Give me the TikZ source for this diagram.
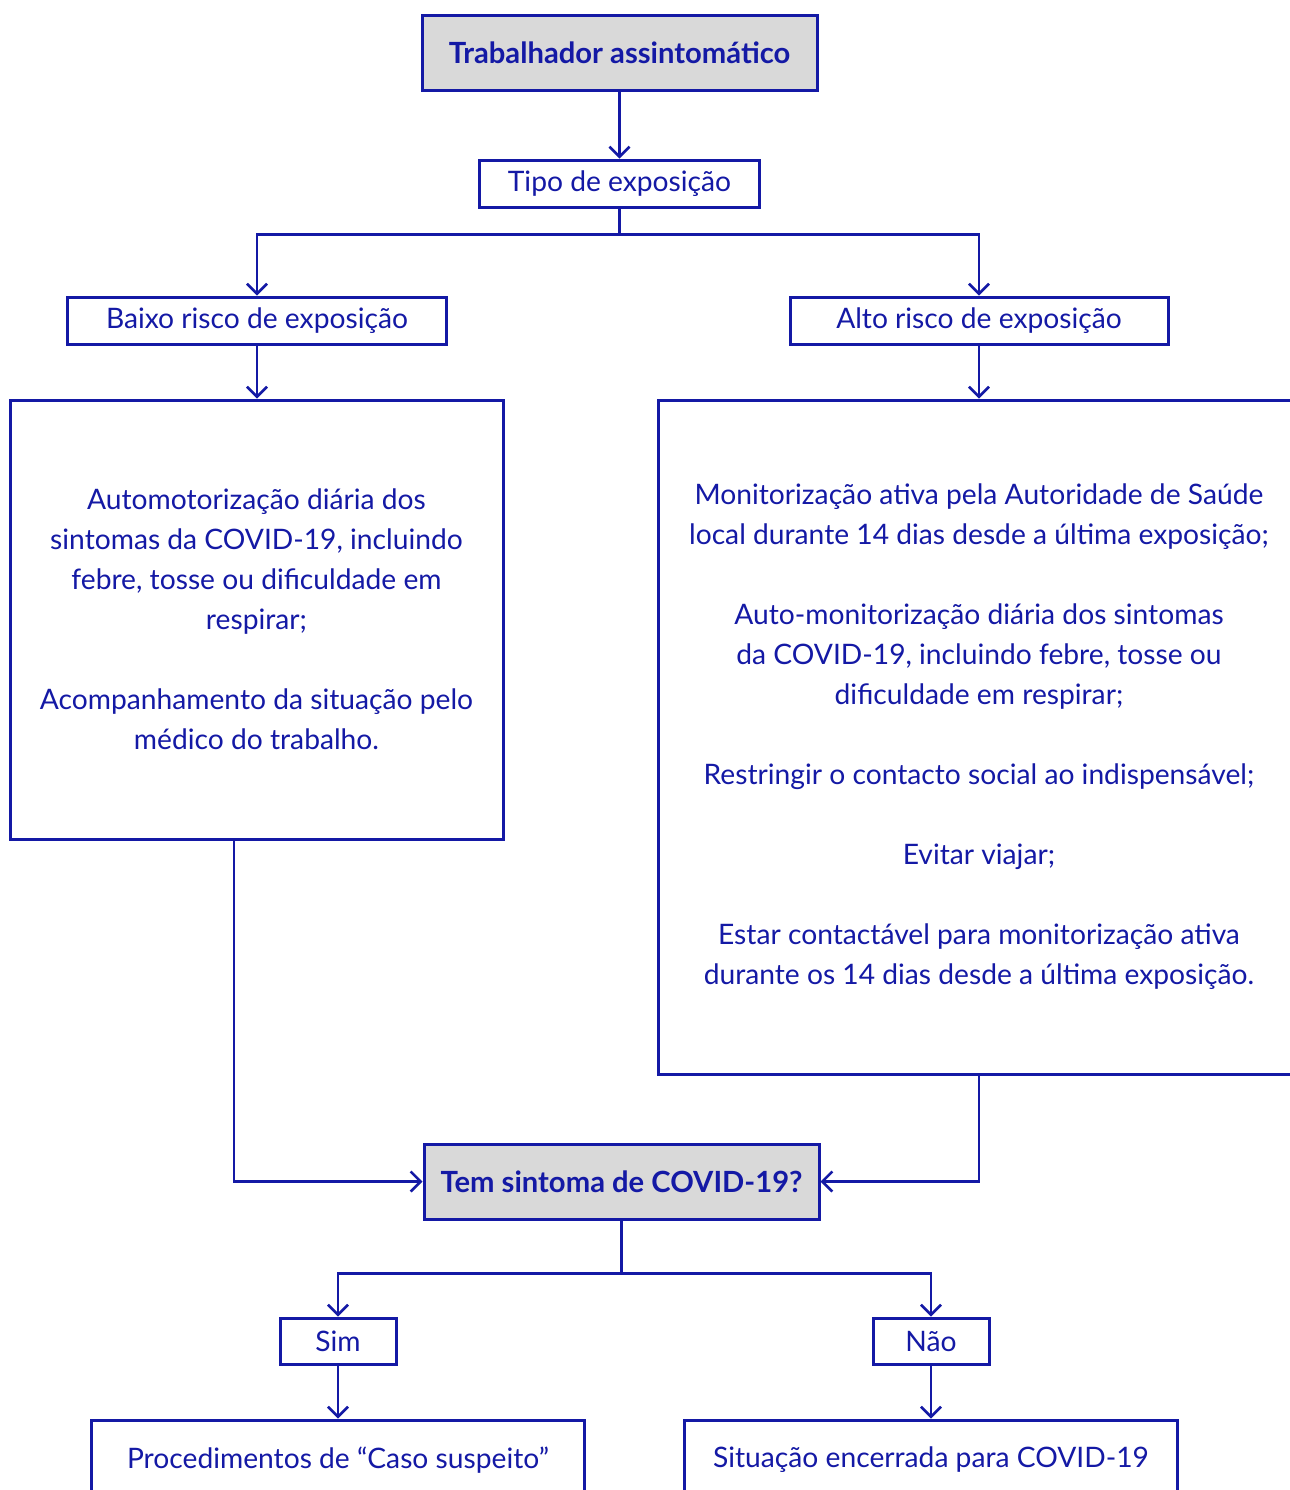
\documentclass[tikz,border=0pt]{standalone}
\usepackage{fontspec}
\setmainfont{Lato}
\usetikzlibrary{arrows.meta}
\definecolor{myblue}{RGB}{20,25,165}
\definecolor{boxgray}{RGB}{217,217,217}
\tikzset{
  box/.style={draw=myblue, line width=1.5pt, inner sep=0pt, text=myblue, align=center,
              font=\fontsize{14.1}{20}\selectfont},
  boldbox/.style={box, fill=boxgray, font=\fontsize{14.6}{20}\selectfont\bfseries},
  arr/.style={draw=myblue, line width=1.3pt, -{Straight Barb[length=5pt,width=10pt,line width=1.3pt]}}
}
\begin{document}
\begin{tikzpicture}[x=0.5pt,y=-0.5pt]
\clip (0,0) rectangle (1290,1490);
\fill[white] (0,0) rectangle (1290,1490);
\node[boldbox, minimum width=197.5pt, minimum height=37.5pt] (top) at (619.5,52.5) {Trabalhador assintomático};
\node[box, minimum width=140pt, minimum height=23.5pt] (tipo) at (619.5,183.5) {Tipo de exposição};
\node[box, minimum width=189.5pt, minimum height=23.5pt] (baixo) at (257,320.5) {Baixo risco de exposição};
\node[box, minimum width=189pt, minimum height=23.5pt] (alto) at (979,320.5) {Alto risco de exposição};
\node[box, minimum width=246.5pt, minimum height=219.5pt] (left) at (256.5,619.5) {Automotorização diária dos\\sintomas da COVID-19, incluindo\\febre, tosse ou dificuldade em\\respirar;\\[20pt]Acompanhamento da situação pelo\\médico do trabalho.};
\node[box, minimum width=321pt, minimum height=337pt] (right) at (979,737) {Monitorização ativa pela Autoridade de Saúde\\local durante 14 dias desde a última exposição;\\[20pt]Auto-monitorização diária dos sintomas\\da COVID-19, incluindo febre, tosse ou\\dificuldade em respirar;\\[20pt]Restringir o contacto social ao indispensável;\\[20pt]Evitar viajar;\\[20pt]Estar contactável para monitorização ativa\\durante os 14 dias desde a última exposição.};
\node[boldbox, minimum width=197.5pt, minimum height=37.5pt] (tem) at (621.5,1181.5) {Tem sintoma de COVID-19?};
\node[box, minimum width=58pt, minimum height=23pt] (sim) at (338,1341) {Sim};
\node[box, minimum width=58pt, minimum height=23pt] (nao) at (931,1341) {Não};
\node[box, minimum width=246.5pt, minimum height=40pt] (proc) at (338,1460) {Procedimentos de “Caso suspeito”};
\node[box, minimum width=246.5pt, minimum height=40pt] (sit) at (931,1460) {Situação encerrada para COVID-19};

\draw[arr] (top.south) -- (top.south |- tipo.north);
\draw[arr] (tipo.south) -- ++(0,26) -| (baixo.north);
\draw[arr] (tipo.south) -- ++(0,26) -| (alto.north);
\draw[arr] (baixo.south) -- (baixo.south |- left.north);
\draw[arr] (alto.south) -- (alto.south |- right.north);
\draw[arr] ([xshift=-11.25pt]left.south) |- (tem.west);
\draw[arr] (right.south) |- (tem.east);
\draw[arr] (tem.south) -- ++(0,53) -| (sim.north);
\draw[arr] (tem.south) -- ++(0,53) -| (nao.north);
\draw[arr] (sim.south) -- (sim.south |- proc.north);
\draw[arr] (nao.south) -- (nao.south |- sit.north);
\end{tikzpicture}
\end{document}
